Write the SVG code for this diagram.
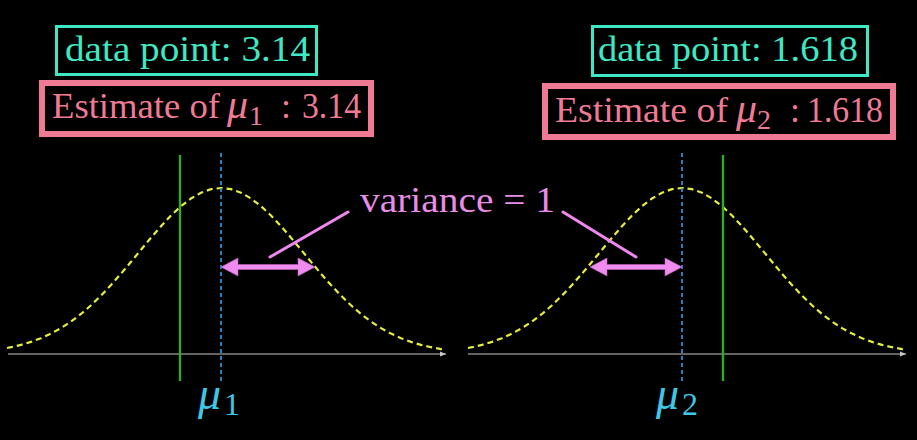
<svg xmlns="http://www.w3.org/2000/svg" width="917" height="440" viewBox="0 0 917 440">
<style>
text{font-family:"Liberation Serif","DejaVu Serif",serif;}
.teal{fill:#3fe8c4;font-size:36px;}
.pink{fill:#ef7a94;font-size:36px;}
.mu{font-style:italic;font-size:42px;}
.sub{font-size:28px;}
.boxT{fill:none;stroke:#3fe8c4;stroke-width:3;}
.boxP{fill:none;stroke:#ef7a94;stroke-width:6;}
.axis{stroke:#c8c8c8;stroke-width:1.2;fill:none;}
.gauss{fill:none;stroke:#e6ee3a;stroke-width:2.2;stroke-dasharray:6 4;}
.mean{stroke:#2b8cd8;stroke-width:1.8;stroke-dasharray:4 3;}
.data{stroke:#33aa2a;stroke-width:2.4;}
.ptr{stroke:#ee88ee;stroke-width:3;stroke-linecap:round;}
.dbl{fill:#f08cf0;stroke:#c060c0;stroke-width:0.6;}
.lbl{fill:#3cc8e6;font-size:38px;}
.lbl.mu{font-size:46px;}
.lbl.sub{font-size:32px;}
.var{fill:#e88ce6;font-size:36px;}
</style>
<defs>
<marker id="ah" viewBox="0 0 10 10" refX="10" refY="5" markerWidth="6" markerHeight="6" orient="auto" markerUnits="userSpaceOnUse"><path d="M0,1 L10,5 L0,9 z" fill="#c8c8c8"/></marker>
<path id="g" d="M-214,348 L-210,347.2 L-200,344.9 L-190,341.9 L-180,338.2 L-170,333.6 L-160,328.1 L-150,321.6 L-140,314 L-130,305.3 L-120,295.6 L-110,285 L-100,273.7 L-90,261.8 L-80,249.7 L-70,237.7 L-60,226.2 L-50,215.5 L-40,206.2 L-30,198.5 L-20,192.7 L-10,189.2 L0,188 L10,189.2 L20,192.7 L30,198.5 L40,206.2 L50,215.5 L60,226.2 L70,237.7 L80,249.7 L90,261.8 L100,273.7 L110,285 L120,295.6 L130,305.3 L140,314 L150,321.6 L160,328.1 L170,333.6 L180,338.2 L190,341.9 L200,344.9 L210,347.2 L220,349.1 L225,349.8"/>
</defs>
<rect width="917" height="440" fill="#000"/>

<g id="left-plot">
<line class="axis" x1="8" y1="354" x2="446" y2="354" marker-end="url(#ah)"/>
<use href="#g" class="gauss" transform="translate(221,0)"/>
<line class="data" x1="180" y1="155" x2="180" y2="381"/>
<line class="mean" x1="221" y1="153" x2="221" y2="381"/>
<polygon class="dbl" points="221,267 238,258 238,264.5 298,264.5 298,258 315,267 298,276 298,269.5 238,269.5 238,276"/>
</g>

<g id="right-plot">
<line class="axis" x1="468" y1="354" x2="906" y2="354" marker-end="url(#ah)"/>
<use href="#g" class="gauss" transform="translate(682,0)"/>
<line class="data" x1="723" y1="155" x2="723" y2="381"/>
<line class="mean" x1="682" y1="153" x2="682" y2="381"/>
<polygon class="dbl" points="590,267 607,258 607,264.5 665,264.5 665,258 682,267 665,276 665,269.5 607,269.5 607,276"/>
</g>

<g id="data1">
<rect class="boxT" x="56.5" y="26.5" width="260" height="48"/>
<text class="teal" x="65" y="61" textLength="245" lengthAdjust="spacingAndGlyphs">data point: 3.14</text>
</g>
<g id="estimate1">
<rect class="boxP" x="42" y="83" width="329" height="51"/>
<text class="pink" x="52" y="118" textLength="168" lengthAdjust="spacingAndGlyphs">Estimate of</text>
<text class="pink mu" x="227" y="118">μ</text>
<text class="pink sub" x="249" y="125">1</text>
<text class="pink" x="281" y="118">:</text>
<text class="pink" x="302" y="118" textLength="59" lengthAdjust="spacingAndGlyphs">3.14</text>
</g>

<g id="data2">
<rect class="boxT" x="592.5" y="26.5" width="275" height="49"/>
<text class="teal" x="598" y="61" textLength="260" lengthAdjust="spacingAndGlyphs">data point: 1.618</text>
</g>
<g id="estimate2">
<rect class="boxP" x="545" y="86" width="348" height="51"/>
<text class="pink" x="555" y="122" textLength="173" lengthAdjust="spacingAndGlyphs">Estimate of</text>
<text class="pink mu" x="736" y="122">μ</text>
<text class="pink sub" x="757" y="129">2</text>
<text class="pink" x="790" y="122">:</text>
<text class="pink" x="807" y="122" textLength="76" lengthAdjust="spacingAndGlyphs">1.618</text>
</g>

<g id="variance-label">
<text class="var" x="360" y="212" textLength="195" lengthAdjust="spacingAndGlyphs">variance = 1</text>
</g>

<g id="mu1-label">
<text class="lbl mu" x="198" y="409">μ</text>
<text class="lbl sub" x="224" y="415">1</text>
</g>
<g id="mu2-label">
<text class="lbl mu" x="656" y="409">μ</text>
<text class="lbl sub" x="682" y="415">2</text>
</g>

<g id="connectors">
<line class="ptr" x1="270" y1="257" x2="348" y2="212"/>
<line class="ptr" x1="563" y1="212" x2="636" y2="257"/>
</g>
</svg>
